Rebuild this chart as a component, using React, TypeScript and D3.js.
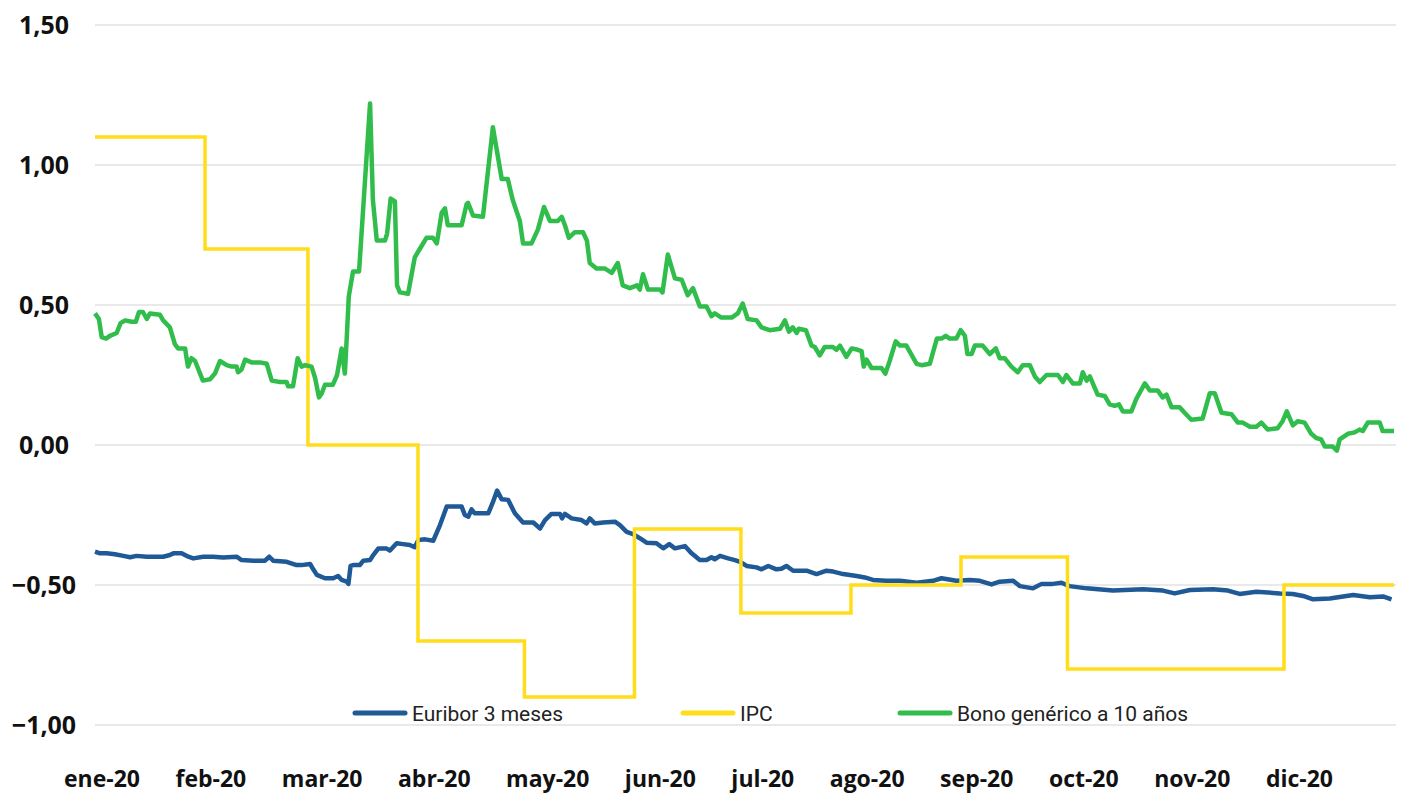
import React, { useRef, useEffect } from 'react';
import * as d3 from 'd3';

// Month labels shown under the chart
const monthLabels = ['ene-20', 'feb-20', 'mar-20', 'abr-20', 'may-20', 'jun-20',
  'jul-20', 'ago-20', 'sep-20', 'oct-20', 'nov-20', 'dic-20'];

// Monthly IPC (inflation), one value per month
const ipcValues = [1.1, 0.7, 0.0, -0.7, -0.9, -0.3, -0.6, -0.5, -0.4, -0.8, -0.8, -0.5];

const yTicks = [1.5, 1, 0.5, 0, -0.5, -1];

// [day of year, value]
const euriborData: [number, number][] = [
  [0, -0.381], [1.4, -0.387], [3.3, -0.387], [5.6, -0.39], [8, -0.396], [9.9, -0.401], [11.7, -0.396],
  [14.6, -0.399], [19.2, -0.399], [21.1, -0.393], [22.1, -0.387], [24.4, -0.387], [26.3, -0.399],
  [27.7, -0.405], [30.5, -0.399], [33.3, -0.399], [36.1, -0.402], [39.9, -0.399], [41.3, -0.411],
  [44.6, -0.413], [47.9, -0.413], [49.1, -0.399], [50.2, -0.413], [54, -0.417], [56.8, -0.429],
  [58.2, -0.429], [60.6, -0.425], [61.5, -0.444], [62.5, -0.464], [64.8, -0.476], [67.1, -0.476],
  [68.5, -0.468], [69.5, -0.482], [70.9, -0.488], [71.4, -0.496], [72, -0.432], [72.8, -0.429],
  [74.6, -0.429], [75.6, -0.413], [77.5, -0.411], [78.4, -0.393], [79.8, -0.37], [82.2, -0.37],
  [83.1, -0.377], [85, -0.351], [86.8, -0.354], [88.7, -0.357], [90.1, -0.365], [91.1, -0.339],
  [93, -0.337], [95.3, -0.342], [97.2, -0.286], [99.1, -0.22], [103.3, -0.22], [104.2, -0.25],
  [105.2, -0.256], [106.1, -0.23], [107, -0.244], [110.8, -0.244], [112, -0.208], [113.3, -0.163],
  [114.6, -0.194], [116.4, -0.196], [118.3, -0.244], [120.6, -0.277], [123.5, -0.277], [125.4, -0.298],
  [126.8, -0.268], [128.6, -0.246], [131, -0.246], [131.6, -0.262], [132.4, -0.246], [134.3, -0.262],
  [137.1, -0.268], [138.5, -0.28], [139.4, -0.262], [140.8, -0.28], [143.2, -0.277], [146.5, -0.274],
  [147.9, -0.286], [149.8, -0.31], [151.6, -0.318], [153.5, -0.333], [155.4, -0.349], [158.2, -0.351],
  [160.1, -0.369], [161.8, -0.354], [163.4, -0.369], [166.2, -0.361], [168.1, -0.387], [170.4, -0.411],
  [172.3, -0.411], [173.7, -0.401], [174.6, -0.408], [176.1, -0.396], [178.4, -0.405], [180.3, -0.411],
  [181.7, -0.417], [183.6, -0.432], [186.4, -0.437], [187.8, -0.444], [189.7, -0.432], [192, -0.444],
  [193.4, -0.442], [194.8, -0.432], [196.7, -0.449], [200.5, -0.449], [203.3, -0.461], [206.1, -0.449],
  [208, -0.452], [210.8, -0.461], [214.6, -0.468], [216.9, -0.473], [219.2, -0.482], [223, -0.485],
  [226.8, -0.485], [231.5, -0.492], [236.1, -0.485], [238.5, -0.476], [242.7, -0.485], [246.5, -0.482],
  [249.3, -0.485], [252.6, -0.498], [254.9, -0.488], [258.7, -0.485], [260.6, -0.504], [264.3, -0.512],
  [266.7, -0.496], [269.9, -0.496], [272.3, -0.492], [274.6, -0.504], [279.4, -0.512], [286.8, -0.52],
  [295.3, -0.515], [300.9, -0.52], [304.2, -0.53], [308.5, -0.518], [315, -0.515], [319.2, -0.52],
  [322.5, -0.532], [327.2, -0.524], [333.8, -0.53], [337.5, -0.532], [340.4, -0.539], [343.2, -0.551],
  [347.9, -0.548], [354.5, -0.536], [359.2, -0.544], [362.9, -0.541], [365.3, -0.551],
];

const bonoData: [number, number][] = [
  [0, 0.47], [1.1, 0.45], [1.9, 0.385], [3.1, 0.38], [4.2, 0.39], [6.1, 0.4], [7.2, 0.435], [8.5, 0.445],
  [10.3, 0.44], [11.5, 0.44], [12.4, 0.475], [13.5, 0.475], [14.6, 0.45], [15.5, 0.47], [18.3, 0.465],
  [19.2, 0.445], [21.1, 0.42], [22.5, 0.36], [23.4, 0.345], [25.4, 0.345], [25.8, 0.31], [26.2, 0.28],
  [27.2, 0.31], [28.2, 0.3], [29.6, 0.255], [30.4, 0.23], [32.4, 0.235], [33.8, 0.255], [35.2, 0.3],
  [37.1, 0.285], [38.5, 0.28], [39.9, 0.28], [40.3, 0.26], [41.3, 0.27], [42.3, 0.305], [44.1, 0.295],
  [46.5, 0.295], [48.4, 0.29], [49.8, 0.23], [52.1, 0.225], [54, 0.225], [54.4, 0.21], [55.8, 0.21],
  [57.1, 0.31], [58.2, 0.28], [59.2, 0.285], [61, 0.28], [62, 0.24], [63.1, 0.17], [63.9, 0.185],
  [64.8, 0.215], [67, 0.215], [68.2, 0.25], [69.5, 0.345], [70.4, 0.255], [71, 0.4], [71.5, 0.53],
  [72.7, 0.62], [74.4, 0.62], [77.5, 1.22], [78.3, 0.875], [79.4, 0.73], [81.7, 0.73], [82.3, 0.755],
  [83.3, 0.88], [84.5, 0.87], [85.1, 0.57], [85.9, 0.545], [88.2, 0.54], [90.1, 0.67], [91.5, 0.7],
  [93.4, 0.74], [95.2, 0.74], [96.3, 0.72], [97.7, 0.83], [98.6, 0.845], [99.4, 0.785], [103.3, 0.785],
  [104.7, 0.86], [105.1, 0.865], [106.5, 0.82], [109.3, 0.815], [112.1, 1.135], [114.6, 0.95],
  [116.3, 0.95], [117.7, 0.875], [119.7, 0.8], [120.6, 0.72], [123, 0.72], [124.8, 0.77], [126.5, 0.85],
  [128.2, 0.8], [130.4, 0.8], [131.5, 0.815], [132.4, 0.785], [133.5, 0.74], [135.2, 0.76], [137.5, 0.76],
  [138.6, 0.73], [139.4, 0.65], [141.3, 0.63], [143.7, 0.63], [145.6, 0.615], [147.3, 0.65], [148.7, 0.57],
  [150.7, 0.56], [152.7, 0.57], [153.5, 0.555], [154.4, 0.61], [155.8, 0.555], [159.2, 0.555],
  [159.9, 0.545], [161.4, 0.68], [163.4, 0.595], [165.3, 0.59], [167, 0.535], [168.5, 0.56],
  [170.4, 0.495], [172.3, 0.495], [173.7, 0.46], [174.6, 0.47], [176.5, 0.455], [179.4, 0.455],
  [181.1, 0.47], [182.5, 0.505], [183.9, 0.45], [186.4, 0.445], [187.8, 0.42], [190.1, 0.41],
  [193, 0.415], [194.4, 0.445], [195.5, 0.405], [196.6, 0.42], [197.7, 0.4], [198.3, 0.415],
  [200.3, 0.41], [201.9, 0.355], [202.8, 0.35], [204.2, 0.32], [205.6, 0.35], [207.9, 0.35],
  [208.9, 0.34], [209.9, 0.355], [211.7, 0.315], [213.2, 0.345], [214.9, 0.34], [216, 0.335],
  [216.6, 0.28], [217.4, 0.305], [218.8, 0.275], [221.6, 0.275], [222.7, 0.255], [223.9, 0.3],
  [225.6, 0.37], [226.8, 0.355], [228.6, 0.355], [231.5, 0.29], [232.9, 0.285], [235.2, 0.29],
  [237.2, 0.38], [238.5, 0.38], [239.7, 0.39], [240.8, 0.38], [242.7, 0.38], [243.9, 0.41],
  [245.1, 0.39], [245.8, 0.325], [247, 0.325], [247.9, 0.355], [250.1, 0.355], [252.1, 0.325],
  [253.8, 0.345], [254.9, 0.31], [256.3, 0.31], [258.2, 0.28], [260, 0.26], [261.4, 0.285],
  [263.4, 0.285], [264.8, 0.245], [266.2, 0.225], [268.1, 0.25], [271.3, 0.25], [272.7, 0.225],
  [273.7, 0.25], [275.5, 0.22], [277.5, 0.22], [278.3, 0.26], [279.4, 0.23], [280.3, 0.245],
  [282.5, 0.18], [284.5, 0.175], [285.9, 0.145], [287.3, 0.14], [288.5, 0.145], [289.6, 0.12],
  [292, 0.12], [293.4, 0.165], [295.8, 0.22], [297.2, 0.195], [299.4, 0.195], [300.8, 0.17],
  [301.9, 0.18], [303.3, 0.135], [305.6, 0.135], [307, 0.115], [308.9, 0.09], [312.1, 0.095],
  [314.1, 0.185], [315.5, 0.185], [317.4, 0.115], [320.2, 0.11], [322, 0.08], [323.4, 0.08],
  [325.4, 0.065], [327.2, 0.065], [328.6, 0.08], [330.4, 0.055], [333.2, 0.06], [334.6, 0.085],
  [335.8, 0.12], [337.5, 0.07], [338.9, 0.085], [340.8, 0.08], [342.7, 0.04], [344.1, 0.025],
  [345.5, 0.02], [346.5, -0.005], [348.7, -0.005], [349.9, -0.02], [350.7, 0.02], [353, 0.04],
  [354.9, 0.045], [356.3, 0.055], [357.2, 0.05], [358.6, 0.08], [362, 0.08], [362.8, 0.05], [366, 0.05],
];

const seriesNames = ['Euribor 3 meses', 'IPC', 'Bono genérico a 10 años'];
const seriesColors = ['#1f5a96', '#ffdd1a', '#31bd4b'];

const width = 1406;
const height = 796;
const plot = { left: 95, right: 1394, top: 25, bottom: 725 };
const legendX = [355, 683, 900];
const legendY = 713;
const labelSpan = [64, 1333];

const fmt = (v: number) => d3.format('.2f')(v).replace('.', ',');
const startDate = Date.UTC(2020, 0, 1);
const endDate = Date.UTC(2021, 0, 1);
const dayToDate = (d: number) => new Date(startDate + d * 864e5);

const App = () => {
  const ref = useRef<SVGSVGElement>(null);

  useEffect(() => {
    const svg = d3.select(ref.current);
    svg.selectAll('*').remove();

    const x = d3.scaleUtc()
      .domain([new Date(startDate), new Date(endDate)])
      .range([plot.left, plot.right]);
    const y = d3.scaleLinear()
      .domain([-1, 1.5])
      .range([plot.bottom, plot.top]);

    // Gridlines
    svg.append('g')
      .selectAll('line')
      .data(yTicks)
      .join('line')
      .attr('x1', plot.left)
      .attr('x2', plot.right + 2)
      .attr('y1', d => y(d))
      .attr('y2', d => y(d))
      .attr('stroke', '#e2e2e2')
      .attr('stroke-width', 1.5);

    // Y labels
    svg.append('g')
      .selectAll('text')
      .data(yTicks)
      .join('text')
      .attr('x', 44)
      .attr('y', d => y(d) + 9)
      .attr('text-anchor', 'middle')
      .style('font-family', '"Open Sans", sans-serif')
      .style('font-weight', 700)
      .style('font-size', '25px')
      .attr('fill', '#111')
      .text(fmt);

    // X labels, laid out in one justified row
    const xl = svg.append('g')
      .selectAll('text')
      .data(monthLabels)
      .join('text')
      .attr('y', 787)
      .style('font-family', '"Open Sans", sans-serif')
      .style('font-weight', 700)
      .style('font-size', '23px')
      .attr('fill', '#111')
      .text(d => d);
    const widths = xl.nodes().map(n => (n as SVGTextElement).getComputedTextLength());
    const gap = (labelSpan[1] - labelSpan[0] - d3.sum(widths)) / (widths.length - 1);
    let cursor = labelSpan[0];
    xl.attr('x', (d, i) => {
      const pos = cursor;
      cursor += widths[i] + gap;
      return pos;
    });

    const line = d3.line<[Date, number]>()
      .x(d => x(d[0]))
      .y(d => y(d[1]));

    // Euribor
    svg.append('path')
      .datum(euriborData.map(d => [dayToDate(d[0]), d[1]] as [Date, number]))
      .attr('d', line)
      .attr('fill', 'none')
      .attr('stroke', seriesColors[0])
      .attr('stroke-width', 4.5)
      .attr('stroke-linejoin', 'round');

    // IPC steps
    const months = d3.utcMonths(new Date(startDate), new Date(endDate));
    const ipcPoints = months.map((m, i) => [m, ipcValues[i]] as [Date, number]);
    ipcPoints.push([new Date(endDate), ipcValues[ipcValues.length - 1]]);
    svg.append('path')
      .datum(ipcPoints)
      .attr('d', line.curve(d3.curveStepAfter))
      .attr('fill', 'none')
      .attr('stroke', seriesColors[1])
      .attr('stroke-width', 3.5);
    line.curve(d3.curveLinear);

    // Bono 10 años
    svg.append('path')
      .datum(bonoData.map(d => [dayToDate(d[0]), d[1]] as [Date, number]))
      .attr('d', line)
      .attr('fill', 'none')
      .attr('stroke', seriesColors[2])
      .attr('stroke-width', 4.5)
      .attr('stroke-linejoin', 'round');

    // Legend
    const lg = svg.append('g')
      .selectAll('g')
      .data(seriesNames)
      .join('g')
      .attr('transform', (d, i) => `translate(${legendX[i]}, ${legendY})`);
    lg.append('line')
      .attr('x1', 0)
      .attr('x2', 50)
      .attr('stroke', (d, i) => seriesColors[i])
      .attr('stroke-width', 5)
      .attr('stroke-linecap', 'round');
    lg.append('text')
      .attr('x', 57)
      .attr('y', 8)
      .style('font-family', 'Roboto, sans-serif')
      .style('font-size', '21px')
      .attr('fill', '#222')
      .text(d => d);
  }, []);

  return (
    <svg ref={ref} width={width} height={height}
      style={{ position: 'absolute', left: 0, top: 0, background: '#fff' }} />
  );
};

export default App;
